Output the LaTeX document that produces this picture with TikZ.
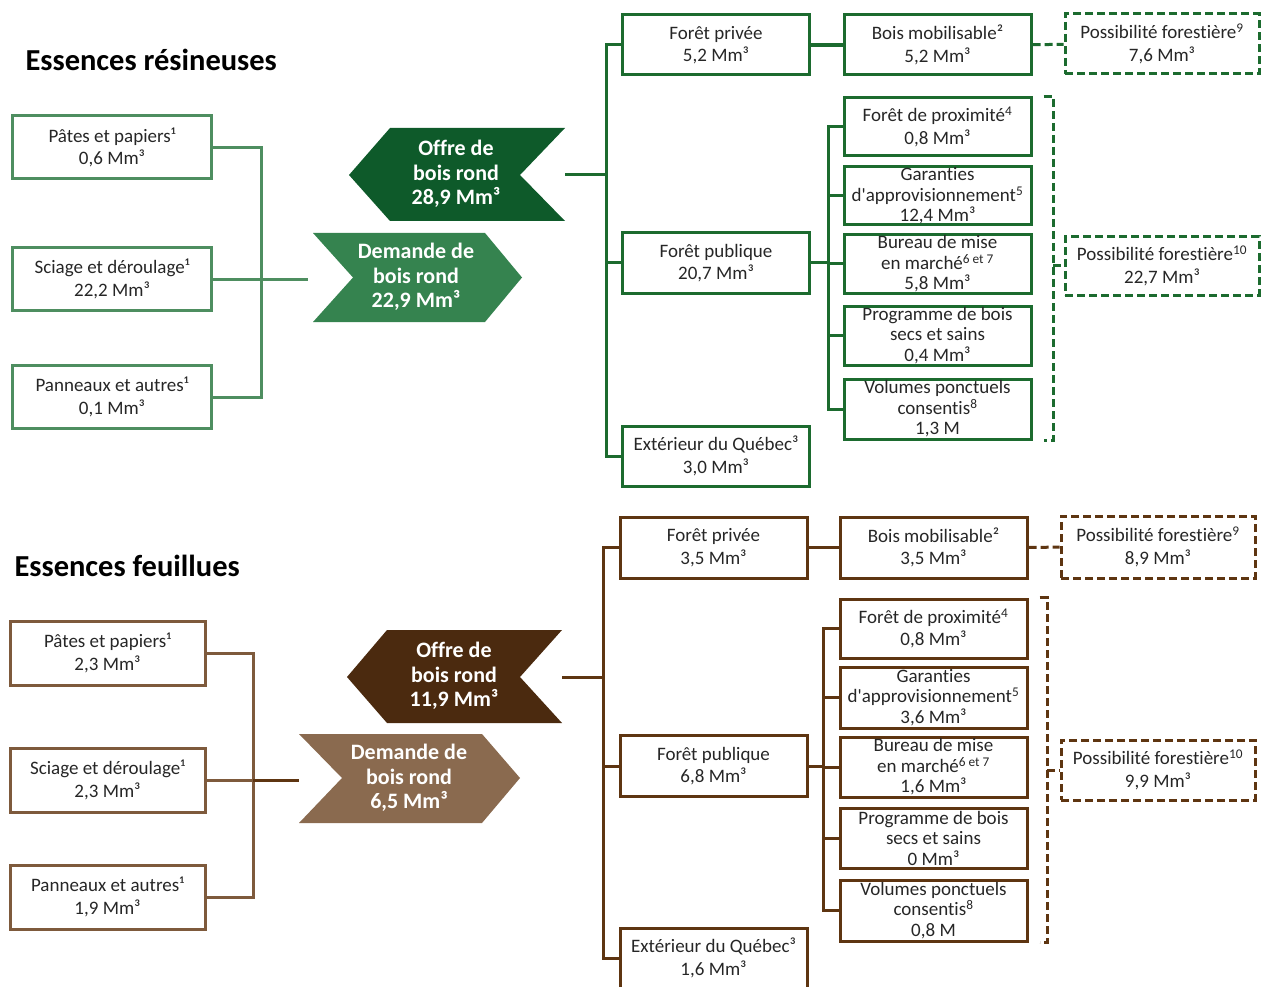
\documentclass[tikz,border=0pt]{standalone}
\usepackage{fontspec}
\setmainfont{Carlito}[Ligatures=NoCommon]
\newfontfamily\qfont{Carlito}
\usetikzlibrary{positioning}
\definecolor{gdark}{RGB}{14,90,42}
\definecolor{gmid}{RGB}{53,131,79}
\definecolor{gline}{RGB}{28,107,47}
\definecolor{glight}{RGB}{78,142,96}
\definecolor{bdark}{RGB}{75,42,15}
\definecolor{bmid}{RGB}{138,106,79}
\definecolor{bline}{RGB}{94,53,17}
\definecolor{blight}{RGB}{126,90,60}
\newcommand{\mmc}[1]{#1~Mm³}
\newcommand{\appro}{d{\qfont'}approvisionnement\textsuperscript{5}}

\begin{document}
\begin{tikzpicture}[x=1pt, y=-1pt,
    box/.style={draw, line width=3pt, align=center, inner sep=0pt, text=black!85,
      font=\fontsize{19}{22.5}\selectfont},
    tight/.style={font=\fontsize{19}{20.5}\selectfont},
    lbox/.style={box, minimum width=199, minimum height=63},
    rbox/.style={box, minimum width=187, minimum height=60},
    dashbox/.style={box, dash pattern=on 8pt off 4pt, minimum width=194, minimum height=60},
    tag/.style={align=center, text=white, font=\bfseries\fontsize{22}{24.5}\selectfont},
    title/.style={anchor=base west, font=\bfseries\fontsize{30.5}{32}\selectfont},
    conn/.style={line width=3pt},
    dashconn/.style={line width=3pt, dash pattern=on 8pt off 4pt}]
  \useasboundingbox (0,0) rectangle (1264,987);

  % essences resineuses
  \node[title] (titR) at (22,71) {Essences résineuses};
  \node[lbox, draw=glight] (papR) at (112,147.5) {Pâtes et papiers¹\\\mmc{0,6}};
  \node[lbox, draw=glight] (sciR) at (112,279) {Sciage et déroulage¹\\\mmc{22,2}};
  \node[lbox, draw=glight] (panR) at (112,397) {Panneaux et autres¹\\\mmc{0,1}};
  \coordinate (jR) at (261,279);
  \coordinate (demInR) at (308,279);
  \draw[conn, glight] (papR.east) -| (jR) |- (panR.east);
  \draw[conn, glight] (sciR.east) -- (demInR);

  \fill[gmid] (313,233) -- (485,233) -- (522,277.5) -- (485,322) -- (313,322) -- (353,277.5) -- cycle;
  \node[tag] (demR) at (416,277) {Demande de\\bois rond\\\mmc{22,9}};
  \fill[gdark] (390,128) -- (565,128) -- (520,175) -- (565,221) -- (390,221) -- (349,175) -- cycle;
  \node[tag] (offR) at (456,174) {Offre de\\bois rond\\\mmc{28,9}};

  \node[rbox, draw=gline] (fprivR) at (716,45) {Forêt privée\\\mmc{5,2}};
  \node[rbox, draw=gline] (fpubR) at (716,263) {Forêt publique\\\mmc{20,7}};
  \node[rbox, draw=gline] (extR) at (716,456) {Extérieur du Québec³\\\mmc{3,0}};
  \coordinate (offOutR) at (565,175);
  \coordinate (tR) at (606,175);
  \draw[conn, gline] (offOutR) -- (tR);
  \draw[conn, gline] (fprivR.west) -| (tR) |- (extR.west);
  \draw[conn, gline] (tR) |- (fpubR.west);

  \node[rbox, draw=gline] (bmobR) at (937.5,45) {Bois mobilisable²\\\mmc{5,2}};
  \draw[gline, line width=4.5pt] (fprivR) -- (bmobR);
  \node[dashbox, draw=gline] (pos9R) at (1162,44) {Possibilité forestière\textsuperscript{9}\\\mmc{7,6}};
  \draw[dashconn, gline] (bmobR) -- (pos9R);

  \node[rbox, draw=gline, minimum height=58] (proxR) at (937.5,127) {Forêt de proximité\textsuperscript{4}\\\mmc{0,8}};
  \node[rbox, tight, draw=gline, minimum height=58] (garR) at (937.5,196) {Garanties\\\appro\\\mmc{12,4}};
  \node[rbox, tight, draw=gline, minimum height=58] (burR) at (937.5,264) {Bureau de mise\\en marché\textsuperscript{6 et 7}\\\mmc{5,8}};
  \node[rbox, tight, draw=gline, minimum height=59] (progR) at (937.5,335.5) {Programme de bois\\secs et sains\\\mmc{0,4}};
  \node[rbox, tight, draw=gline, minimum height=60] (volR) at (937.5,409) {Volumes ponctuels\\consentis\textsuperscript{8}\\1,3~M};
  \coordinate (sR) at (828,263);
  \draw[conn, gline] (fpubR.east) -- (sR);
  \draw[conn, gline] (proxR.west) -| (sR) |- (volR.west);
  \draw[conn, gline] (sR |- garR.west) -- (garR.west);
  \draw[conn, gline] (sR |- burR.west) -- (burR.west);
  \draw[conn, gline] (sR |- progR.west) -- (progR.west);

  \node[dashbox, draw=gline, minimum height=58] (pos10R) at (1162,266) {Possibilité forestière\textsuperscript{10}\\\mmc{22,7}};
  \coordinate (bR) at (1053,266);
  \draw[dashconn, gline] ([xshift=11pt]proxR.north east) -| (bR) |- ([xshift=11pt]volR.south east);
  \draw[dashconn, gline] (bR) -- (pos10R.west);

  % essences feuillues
  \node[title] (titF) at (11,576) {Essences feuillues};
  \node[lbox, draw=blight, minimum width=195, minimum height=64] (papF) at (107.5,653) {Pâtes et papiers¹\\\mmc{2,3}};
  \node[lbox, draw=blight, minimum width=195, minimum height=64] (sciF) at (107.5,780) {Sciage et déroulage¹\\\mmc{2,3}};
  \node[lbox, draw=blight, minimum width=195, minimum height=64] (panF) at (107.5,897) {Panneaux et autres¹\\\mmc{1,9}};
  \coordinate (jF) at (253,780);
  \coordinate (demInF) at (299,780);
  \draw[conn, blight] (papF.east) -| (jF) |- (panF.east);
  \draw[conn, blight] (sciF.east) -- (jF);
  \draw[conn, bline] (jF) -- (demInF);

  \fill[bmid] (299,734) -- (482,734) -- (520,778) -- (482,823) -- (299,823) -- (342,778) -- cycle;
  \node[tag] (demF) at (409,778) {Demande de\\bois rond\\\mmc{6,5}};
  \fill[bdark] (387,630) -- (562,630) -- (520,677) -- (562,723) -- (387,723) -- (347,677) -- cycle;
  \node[tag] (offF) at (454,676) {Offre de\\bois rond\\\mmc{11,9}};

  \node[rbox, draw=bline, minimum height=61] (fprivF) at (713.5,547.5) {Forêt privée\\\mmc{3,5}};
  \node[rbox, draw=bline, minimum height=61] (fpubF) at (713.5,766) {Forêt publique\\\mmc{6,8}};
  \node[rbox, draw=bline] (extF) at (713.5,958) {Extérieur du Québec³\\\mmc{1,6}};
  \coordinate (offOutF) at (562,677);
  \coordinate (tF) at (603,677);
  \draw[conn, bline] (offOutF) -- (tF);
  \draw[conn, bline] (fprivF.west) -| (tF) |- (extF.west);
  \draw[conn, bline] (tF) |- (fpubF.west);

  \node[rbox, draw=bline, minimum height=61] (bmobF) at (933.5,547.5) {Bois mobilisable²\\\mmc{3,5}};
  \draw[conn, bline] (fprivF) -- (bmobF);
  \node[dashbox, draw=bline, minimum height=62] (pos9F) at (1158,547) {Possibilité forestière\textsuperscript{9}\\\mmc{8,9}};
  \draw[dashconn, bline] (bmobF) -- (pos9F);

  \node[rbox, draw=bline, minimum height=59] (proxF) at (933.5,628.5) {Forêt de proximité\textsuperscript{4}\\\mmc{0,8}};
  \node[rbox, tight, draw=bline, minimum height=61] (garF) at (933.5,697.5) {Garanties\\\appro\\\mmc{3,6}};
  \node[rbox, tight, draw=bline, minimum height=60] (burF) at (933.5,767) {Bureau de mise\\en marché\textsuperscript{6 et 7}\\\mmc{1,6}};
  \node[rbox, tight, draw=bline, minimum height=60] (progF) at (933.5,838) {Programme de bois\\secs et sains\\\mmc{0}};
  \node[rbox, tight, draw=bline, minimum height=61] (volF) at (933.5,910.5) {Volumes ponctuels\\consentis\textsuperscript{8}\\0,8~M};
  \coordinate (sF) at (823,766);
  \draw[conn, bline] (fpubF.east) -- (sF);
  \draw[conn, bline] (proxF.west) -| (sF) |- (volF.west);
  \draw[conn, bline] (sF |- garF.west) -- (garF.west);
  \draw[conn, bline] (sF |- burF.west) -- (burF.west);
  \draw[conn, bline] (sF |- progF.west) -- (progF.west);

  \node[dashbox, draw=bline] (pos10F) at (1158,770) {Possibilité forestière\textsuperscript{10}\\\mmc{9,9}};
  \coordinate (bF) at (1047,770);
  \draw[dashconn, bline] ([xshift=11pt]proxF.north east) -| (bF) |- ([xshift=11pt]volF.south east);
  \draw[dashconn, bline] (bF) -- (pos10F.west);
\end{tikzpicture}
\end{document}
